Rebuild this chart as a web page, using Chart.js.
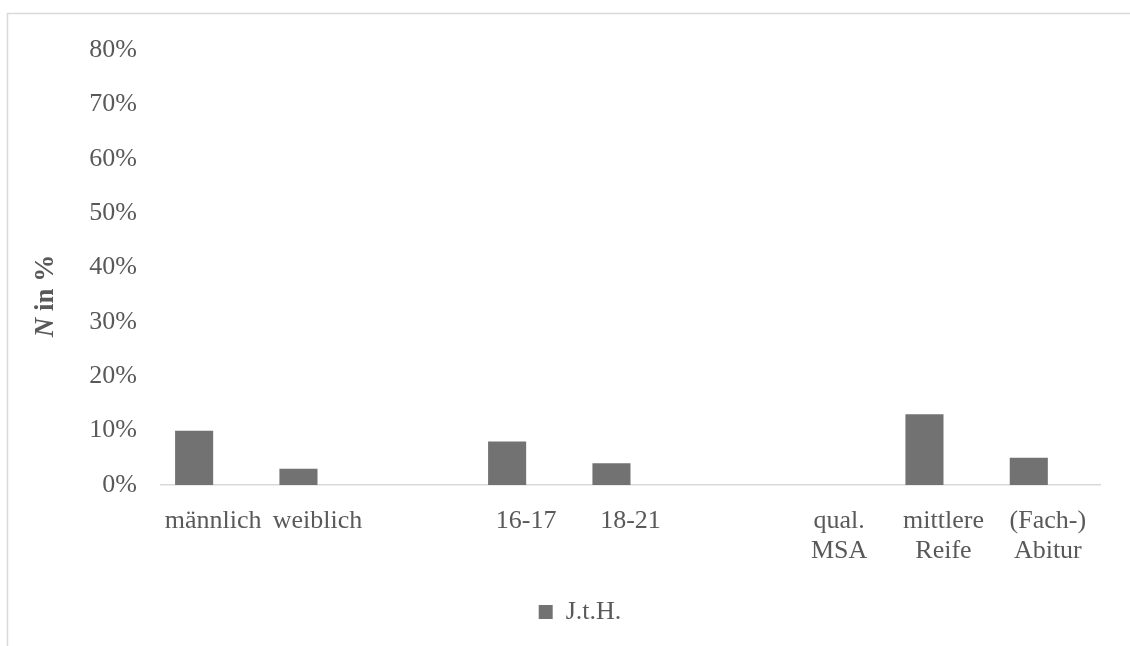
<!DOCTYPE html>
<html>
<head>
<meta charset="utf-8">
<script src="https://cdn.jsdelivr.net/npm/chart.js@4/dist/chart.umd.min.js"></script>
<style>
  html, body { margin: 0; padding: 0; background: #fff; }
  #wrap { width: 1130px; height: 646px; position: relative; }
</style>
</head>
<body>
<div id="wrap"><canvas id="chart"></canvas></div>
<script>
// categories (empty slots are the gaps between groups)
const categories = [
  'männlich', 'weiblich', '',
  '16-17', '18-21', '',
  ['qual.', 'MSA'], ['mittlere', 'Reife'], ['(Fach-)', 'Abitur']
];
const jthValues = [10, 3, null, 8, 4, null, 0, 13, 5];
// second (empty) series slot that keeps the bars left inside each category
const emptySeries = [null, null, null, null, null, null, null, null, null];
const yTicks = [0, 10, 20, 30, 40, 50, 60, 70, 80];

const textColor = '#595959';
const fontName = "'Liberation Serif', 'Times New Roman', serif";

// frame + rotated axis title with italic N
const decoPlugin = {
  id: 'deco',
  beforeDraw(chart) {
    const ctx = chart.ctx;
    ctx.save();
    ctx.strokeStyle = '#d9d9d9';
    ctx.lineWidth = 1.5;
    ctx.beginPath();
    ctx.moveTo(7.5, 646);
    ctx.lineTo(7.5, 13.5);
    ctx.lineTo(1130, 13.5);
    ctx.stroke();
    ctx.restore();
  },
  afterDraw(chart) {
    const ctx = chart.ctx;
    ctx.save();
    ctx.translate(46, 296);
    ctx.rotate(-Math.PI / 2);
    ctx.fillStyle = textColor;
    ctx.textBaseline = 'middle';
    const italic = 'italic bold 27px ' + fontName;
    const bold = 'bold 27px ' + fontName;
    ctx.font = italic;
    const w1 = ctx.measureText('N').width;
    ctx.font = bold;
    const w2 = ctx.measureText(' in %').width;
    let x = -(w1 + w2) / 2;
    ctx.font = italic;
    ctx.textAlign = 'left';
    ctx.fillText('N', x, 0);
    ctx.font = bold;
    ctx.fillText(' in %', x + w1, 0);
    ctx.restore();
  }
};

new Chart(document.querySelector('#chart'), {
  type: 'bar',
  data: {
    labels: categories,
    datasets: [
      {
        label: 'J.t.H.',
        data: jthValues,
        backgroundColor: '#727272',
        borderWidth: 0,
        categoryPercentage: 0.73,
        barPercentage: 1
      },
      {
        label: '',
        data: emptySeries,
        backgroundColor: 'rgba(0,0,0,0)',
        categoryPercentage: 0.73,
        barPercentage: 1
      }
    ]
  },
  options: {
    responsive: true,
    maintainAspectRatio: false,
    animation: false,
    layout: {
      padding: { top: 50, right: 30, left: 60, bottom: 11 }
    },
    scales: {
      x: {
        grid: { display: false, drawTicks: false },
        border: { display: true, color: '#d9d9d9', width: 1.5 },
        ticks: {
          color: textColor,
          font: { family: fontName, size: 26, lineHeight: 1.15 },
          padding: 21,
          maxRotation: 0,
          autoSkip: false
        },
        afterFit(scale) { scale.height = 106; }
      },
      y: {
        min: 0,
        max: 80,
        afterBuildTicks(scale) {
          scale.ticks = yTicks.map(v => ({ value: v }));
        },
        grid: { display: false, drawTicks: false },
        border: { display: false },
        ticks: {
          color: textColor,
          font: { family: fontName, size: 26 },
          padding: 24,
          callback: v => v + '%'
        },
        afterFit(scale) { scale.width = 101; }
      }
    },
    plugins: {
      legend: {
        position: 'bottom',
        labels: {
          color: textColor,
          font: { family: fontName, size: 26 },
          boxWidth: 14,
          boxHeight: 14,
          padding: 8,
          filter: item => item.text !== ''
        }
      },
      tooltip: { enabled: false }
    }
  },
  plugins: [decoPlugin]
});
</script>
</body>
</html>
